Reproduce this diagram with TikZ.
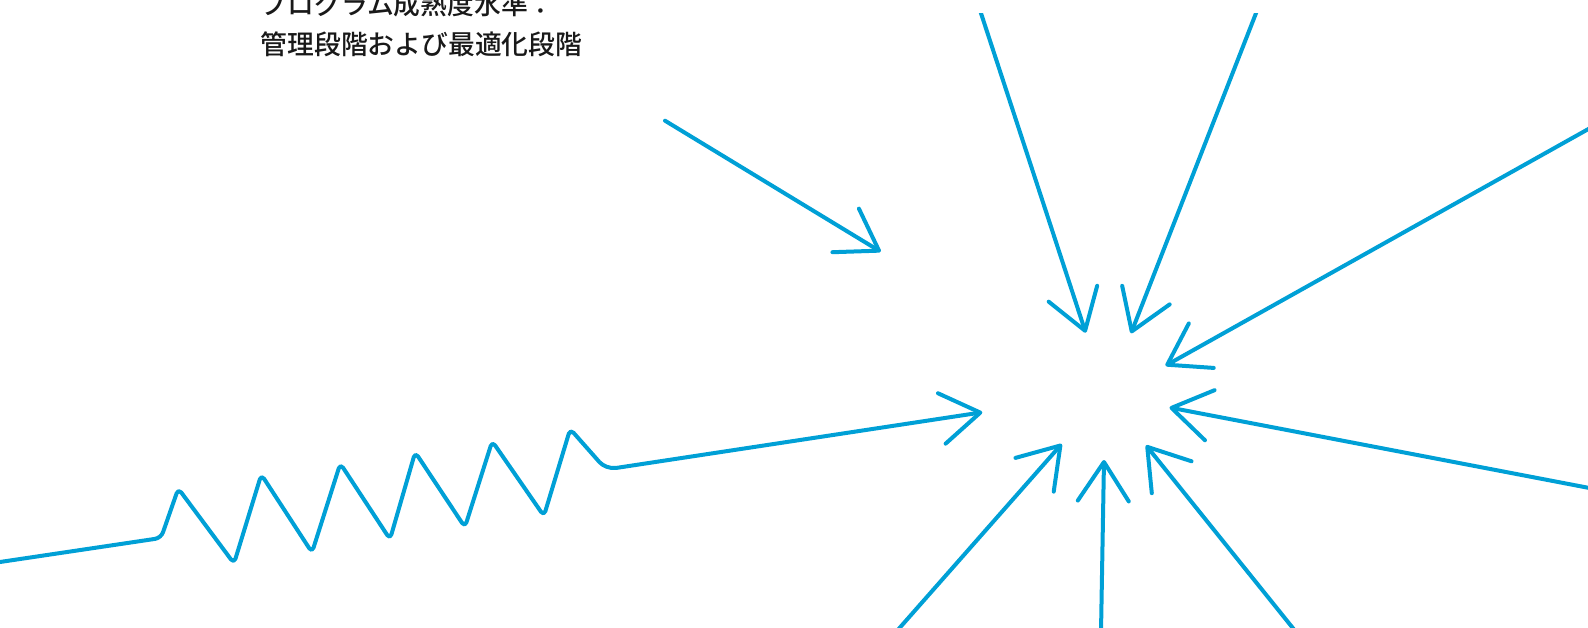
\documentclass[tikz,border=0pt]{standalone}
\usepackage{fontspec}
\newfontfamily\cjk{Noto Sans CJK JP Medium}
\usetikzlibrary{arrows.meta}
\definecolor{arrowblue}{RGB}{0,160,214}
\tikzset{
  conn/.style={draw=arrowblue, line width=4pt, line cap=round, line join=round,
    -{Straight Barb[length=39pt,width=51pt,round]}},
  caption/.style={font=\cjk\fontsize{26.8}{40}\selectfont, text=black!90, inner sep=0pt, align=left, anchor=base west}
}
\begin{document}
\begin{tikzpicture}[x=1pt,y=-1pt]
\useasboundingbox (0,0) rectangle (1588,628);
\node[caption] (title) at (260.5,54.8) {プログラム成熟度水準：\\管理段階および最適化段階};

% coordinates
\coordinate (a0) at (665,120.7);   \coordinate (a1) at (880.7,251.7);
\coordinate (b0) at (978.3,5);     \coordinate (b1) at (1085.7,332.7);
\coordinate (c0) at (1259.2,5);    \coordinate (c1) at (1131,333.3);
\coordinate (d0) at (1592,127);    \coordinate (d1) at (1165.5,365.7);
\coordinate (e0) at (1592,488.5);  \coordinate (e1) at (1169.5,407.5);
\coordinate (f0) at (1296,632);    \coordinate (f1) at (1146,445.3);
\coordinate (g0) at (1101,632);    \coordinate (g1) at (1104,460);
\coordinate (h0) at (896,632);     \coordinate (h1) at (1061.7,444);
\coordinate (z0) at (-4,562.6);    \coordinate (z1) at (982.3,412.3);

\begin{scope}
\clip (0,13.3) rectangle (1588,628);
\draw[conn] (a0) -- (a1);
\draw[conn] (b0) -- (b1);
\draw[conn] (c0) -- (c1);
\draw[conn] (d0) -- (d1);
\draw[conn] (e0) -- (e1);
\draw[conn] (f0) -- (f1);
\draw[conn] (g0) -- (g1);
\draw[conn] (h0) -- (h1);
\end{scope}

\draw[conn] (z0) [rounded corners=6pt] -- (161,538) [rounded corners=5pt]
  -- (178.3,488.5) -- (234,563.5) -- (261.3,474.5) -- (312,552.5)
  -- (340.3,463.5) -- (390,539.3) -- (415.2,452.2) -- (464.9,527.2)
  -- (492.2,441.2) -- (543.9,516) -- (570.2,429) [rounded corners=10pt]
  -- (606,469.5) [rounded corners=0pt] -- (z1);
\end{tikzpicture}
\end{document}
